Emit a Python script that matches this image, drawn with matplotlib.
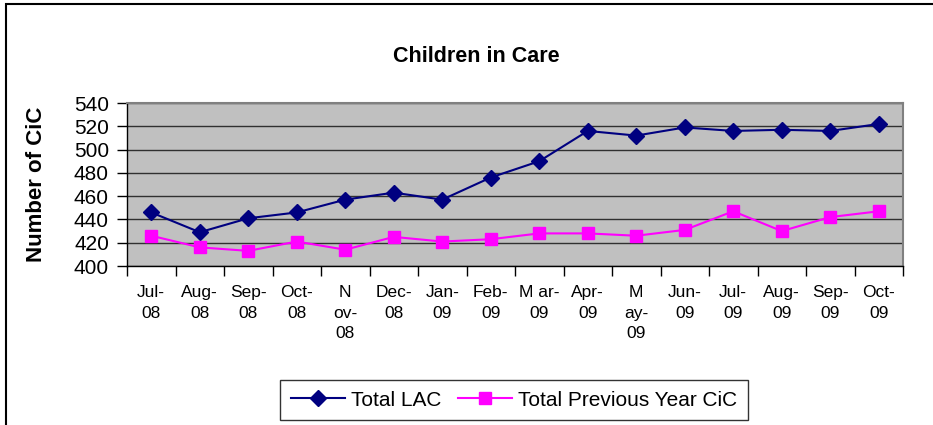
import matplotlib
matplotlib.use('Agg')
import matplotlib.pyplot as plt
from matplotlib.patches import Rectangle
import numpy as np

plt.rcParams['font.family'] = ['Liberation Sans', 'DejaVu Sans']

# ==================== 数据 ====================
months = ['Jul-\n08', 'Aug-\n08', 'Sep-\n08', 'Oct-\n08', 'N\nov-\n08', 'Dec-\n08',
          'Jan-\n09', 'Feb-\n09', 'M ar-\n09', 'Apr-\n09', 'M\nay-\n09', 'Jun-\n09',
          'Jul-\n09', 'Aug-\n09', 'Sep-\n09', 'Oct-\n09']
total_lac = [446, 429, 441, 446, 457, 463, 457, 476, 490, 516, 512, 519, 516, 517, 516, 522]
prev_year_cic = [426, 416, 413, 421, 414, 425, 421, 423, 428, 428, 426, 431, 447, 430, 442, 447]
y_ticks = [400, 420, 440, 460, 480, 500, 520, 540]

# ==================== 绘图 ====================
fig = plt.figure(figsize=(9.33, 4.25), dpi=100)
ax = fig.add_axes([127 / 933, 1 - 266 / 425, 776 / 933, 163 / 425])
ax.set_facecolor('#C0C0C0')

x = np.arange(len(months))
ax.plot(x, total_lac, color='#000080', lw=1.5, marker='D', markersize=8,
        label='Total LAC', zorder=3)
ax.plot(x, prev_year_cic, color='#FF00FF', lw=1.5, marker='s', markersize=9,
        label='Total Previous Year CiC', zorder=3)

ax.set_xlim(-0.5, len(months) - 0.5)
ax.set_ylim(400, 540)
ax.set_yticks(y_ticks)
ax.yaxis.grid(True, color='#303030', lw=1)
ax.set_axisbelow(True)

# 类别分隔刻度 + 居中标签
ax.set_xticks(np.arange(-0.5, len(months)), minor=False)
ax.set_xticklabels([])
ax.set_xticks(x, minor=True)
ax.set_xticklabels(months, minor=True, fontsize=12.5, linespacing=1.45)
ax.tick_params(axis='x', which='major', length=7, width=1, direction='out', color='black')
ax.tick_params(axis='x', which='minor', length=0, pad=14)
ax.tick_params(axis='y', length=7, width=1, direction='out', pad=6, labelsize=15, color='black')

for s in ax.spines.values():
    s.set_color('#808080')
    s.set_linewidth(1.5)
ax.spines['left'].set_color('black')
ax.spines['bottom'].set_color('black')
ax.spines['left'].set_linewidth(1)
ax.spines['bottom'].set_linewidth(1)

ax.set_ylabel('Number of CiC', fontsize=16, fontweight='bold')
ax.yaxis.set_label_coords(-0.103, 0.5)

fig.text(476 / 933, 1 - 57 / 425, 'Children in Care', ha='center', va='center',
         fontsize=15.5, fontweight='bold')

fig.legend(loc='center', bbox_to_anchor=(514 / 933, 1 - 400 / 425), ncol=2,
           fontsize=15, frameon=True, fancybox=False, edgecolor='black',
           handlelength=2.6, columnspacing=0.8, handletextpad=0.3,
           borderpad=0.5, borderaxespad=0)

# 外框
fig.patches.append(Rectangle((6 / 933, -0.1), 1.2, 1.1 - 4 / 425, transform=fig.transFigure,
                             fill=False, edgecolor='black', lw=1.5))

plt.savefig('out.png', dpi=100, facecolor='white')
